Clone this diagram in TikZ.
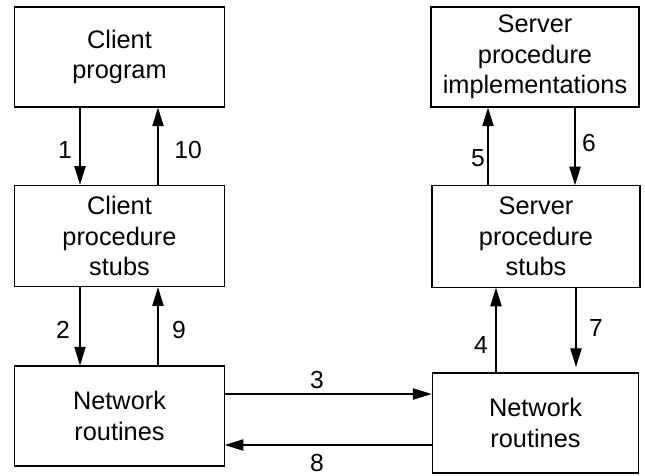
\documentclass[tikz,border=0pt]{standalone}
\usepackage{fontspec}
\setmainfont{Liberation Sans}
\usetikzlibrary{arrows.meta}
\begin{document}
\begin{tikzpicture}[x=0.75pt,y=-0.75pt,
  box/.style={draw, line width=0.85pt, inner sep=0pt, align=center,
    font=\fontsize{19}{23}\selectfont, text width=150pt},
  conn/.style={line width=0.85pt, -{Triangle[length=14pt,width=8.5pt]}},
  lbl/.style={font=\fontsize{18.5}{20}\selectfont, inner sep=0pt}]
\useasboundingbox (0,0) rectangle (645,475);
\node[box, minimum width=157pt, minimum height=75pt] (cp) at (119.5,57) {Client\\program};
\node[box, minimum width=157pt, minimum height=76pt] (cs) at (119.5,236) {Client\\procedure\\stubs};
\node[box, minimum width=157pt, minimum height=75pt] (cn) at (119.5,416) {Network\\routines};
\node[box, minimum width=156pt, minimum height=75pt] (si) at (535,57) {Server\\procedure\\implementations};
\node[box, minimum width=156pt, minimum height=76pt] (ss) at (536,236.5) {Server\\procedure\\stubs};
\node[box, minimum width=155pt, minimum height=75pt] (sn) at (535.5,423) {Network\\routines};
% vertical connectors
\draw[conn] (cp.south -| 80,0) -- (cs.north -| 80,0);
\draw[conn] (cs.north -| 158,0) -- (cp.south -| 158,0);
\draw[conn] (cs.south -| 80,0) -- (cn.north -| 80,0);
\draw[conn] (cn.north -| 158,0) -- (cs.south -| 158,0);
\draw[conn] (ss.north -| 488,0) -- (si.south -| 488,0);
\draw[conn] (si.south -| 575,0) -- (ss.north -| 575,0);
\draw[conn] (sn.north -| 496,0) -- (ss.south -| 496,0);
\coordinate (e7) at (576,367);
\draw[conn] (ss.south -| 576,0) -- (e7);
% horizontal connectors
\draw[conn] (cn.east |- 0,394) -- (sn.west |- 0,394);
\draw[conn] (sn.west |- 0,445) -- (cn.east |- 0,445);
% labels
\node[lbl] (l1) at (65,150) {1};
\node[lbl] (l10) at (188,150) {10};
\node[lbl] (l2) at (63,330) {2};
\node[lbl] (l9) at (179,330) {9};
\node[lbl] (l3) at (317,380) {3};
\node[lbl] (l8) at (317,463) {8};
\node[lbl] (l5) at (478,158) {5};
\node[lbl] (l6) at (589,143) {6};
\node[lbl] (l4) at (481,345) {4};
\node[lbl] (l7) at (596,328) {7};
\end{tikzpicture}
\end{document}
